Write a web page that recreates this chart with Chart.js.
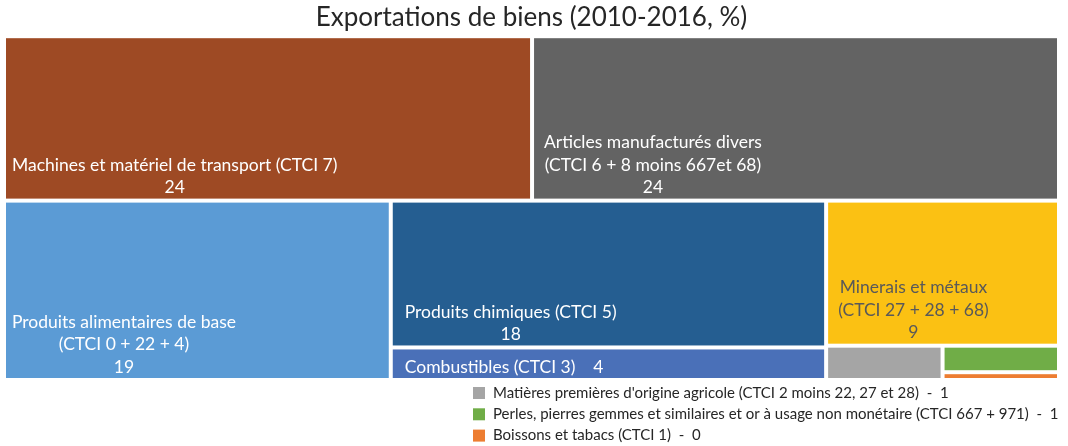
<!DOCTYPE html>
<html><head><meta charset="utf-8">
<script src="https://cdn.jsdelivr.net/npm/chart.js@4/dist/chart.umd.min.js"></script>
<style>html,body{margin:0;padding:0;background:#fff}#wrap{width:1068px;height:446px}</style>
</head><body><div id="wrap"><canvas id="c" width="1068" height="446"></canvas></div>
<script>
const categories = [
  "Machines et matériel de transport (CTCI 7)",
  "Articles manufacturés divers (CTCI 6 + 8 moins 667et 68)",
  "Produits alimentaires de base (CTCI 0 + 22 + 4)",
  "Produits chimiques (CTCI 5)",
  "Combustibles (CTCI 3)",
  "Minerais et métaux (CTCI 27 + 28 + 68)",
  "Matières premières d'origine agricole (CTCI 2 moins 22, 27 et 28)",
  "Perles, pierres gemmes et similaires et or à usage non monétaire (CTCI 667 + 971)",
  "Boissons et tabacs (CTCI 1)"
];
const values = [23.9, 23.85, 19.1, 17.6, 3.9, 9.3, 1.1, 0.85, 0.25];
const labelLines = [
  ["Machines et matériel de transport (CTCI 7)"],
  ["Articles manufacturés divers", "(CTCI 6 + 8 moins 667et 68)"],
  ["Produits alimentaires de base", "(CTCI 0 + 22 + 4)"],
  ["Produits chimiques (CTCI 5)"],
  ["Combustibles (CTCI 3)"],
  ["Minerais et métaux", "(CTCI 27 + 28 + 68)"],
  [], [], []
];
const legendItems = [6, 7, 8];

const colors = ["#9E4A24", "#636363", "#5B9BD5", "#255E91", "#4A70B8", "#FBC113", "#A5A5A5", "#70AD47", "#ED7D31"];
const textColors = ["#fff", "#fff", "#fff", "#fff", "#fff", "#595959"];
const labelPad = [6, 10, 6, 12, 12, 10];
const inlineValue = [false, false, false, false, true, false];

// treemap structure (slice-and-dice tree of category indices)
const tree = {dir: "v", children: [
  {dir: "h", children: [0, 1]},
  {dir: "h", children: [2,
    {dir: "v", children: [3, 4]},
    {dir: "v", children: [5, {dir: "h", children: [6, {dir: "v", children: [7, 8]}]}]}
  ]}
]};

function sumNode(n) { return typeof n === "number" ? values[n] : n.children.reduce((a, c) => a + sumNode(c), 0); }
function layout(n, x, y, w, h, out) {
  if (typeof n === "number") { out[n] = {x, y, w, h}; return; }
  const tot = sumNode(n);
  let off = 0;
  n.children.forEach(c => {
    const f = sumNode(c) / tot;
    if (n.dir === "h") layout(c, x + off * w, y, w * f, h, out);
    else layout(c, x, y + off * h, w, h * f, out);
    off += f;
  });
}
const cells = [];
layout(tree, 0, 0, 100, 100, cells);

const FONT = "Lato, 'Open Sans', sans-serif";

const treemapPlugin = {
  id: "treemap",
  afterDatasetsDraw(chart) {
    const ctx = chart.ctx, xs = chart.scales.x, ys = chart.scales.y;
    const g = 2;
    ctx.save();
    cells.forEach((c, i) => {
      const x0 = xs.getPixelForValue(c.x), x1 = xs.getPixelForValue(c.x + c.w);
      const y0 = ys.getPixelForValue(c.y), y1 = ys.getPixelForValue(c.y + c.h);
      const rx = x0 + g, ry = y0 + g, rw = x1 - x0 - 2 * g, rh = y1 - y0 - 2 * g;
      ctx.fillStyle = colors[i];
      ctx.fillRect(rx, ry, rw, rh);
      if (i < 6) {
        const v = Math.round(values[i]);
        ctx.font = "17.5px " + FONT;
        ctx.fillStyle = textColors[i];
        ctx.textBaseline = "middle";
        let lines = labelLines[i].slice();
        if (inlineValue[i]) lines[0] = lines[0] + "    " + v; else lines.push(String(v));
        const widths = lines.map(l => ctx.measureText(l).width);
        const maxW = Math.max(...widths);
        const cx = rx + labelPad[i] + maxW / 2;
        const lh = 22.5;
        const lastY = ry + rh - 11;
        ctx.textAlign = "center";
        if (inlineValue[i]) { ctx.textAlign = "left"; ctx.fillText(lines[0], rx + labelPad[i], lastY); }
        else lines.forEach((l, k) => ctx.fillText(l, cx, lastY - (lines.length - 1 - k) * lh));
      }
    });
    // legend for small cells
    ctx.font = "15px " + FONT;
    ctx.textAlign = "left";
    ctx.textBaseline = "middle";
    legendItems.forEach((i, k) => {
      const y = 393 + k * 21.3;
      ctx.fillStyle = colors[i];
      ctx.fillRect(473, y - 6, 12, 12);
      ctx.fillStyle = "#262626";
      ctx.fillText(categories[i] + "  -  " + Math.round(values[i]), 493, y);
    });
    ctx.restore();
  }
};

new Chart(document.getElementById("c"), {
  type: "scatter",
  data: { datasets: [{ label: "Exportations", data: values.map((v, i) => ({x: cells[i].x, y: cells[i].y})), pointRadius: 0 }] },
  options: {
    responsive: false,
    animation: false,
    events: [],
    layout: { padding: { left: 4, right: 9, top: 0, bottom: 66 } },
    scales: {
      x: { type: "linear", min: 0, max: 100, display: false },
      y: { type: "linear", min: 0, max: 100, reverse: true, display: false }
    },
    plugins: {
      legend: { display: false },
      tooltip: { enabled: false },
      title: { display: true, text: "Exportations de biens (2010-2016, %)", color: "#262626",
               font: { family: FONT, size: 26, weight: "normal" }, padding: { top: 2, bottom: 3 } }
    }
  },
  plugins: [treemapPlugin]
});
</script></body></html>
